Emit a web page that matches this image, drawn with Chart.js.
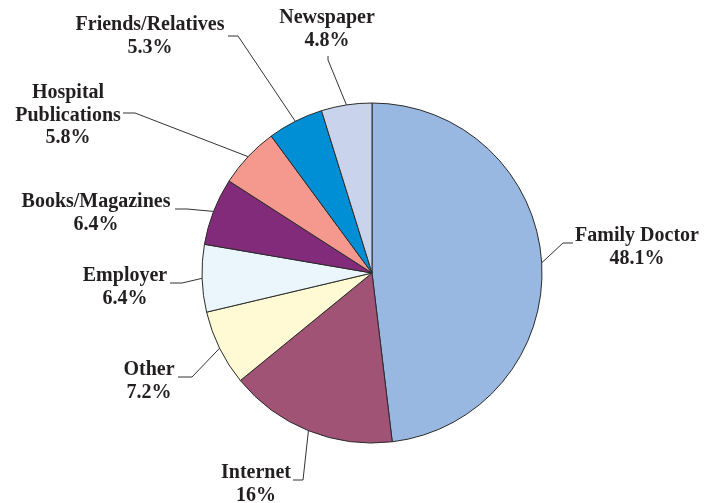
<!DOCTYPE html>
<html>
<head>
<meta charset="utf-8">
<script src="https://cdn.jsdelivr.net/npm/chart.js@4/dist/chart.umd.min.js"></script>
<style>
  html, body { margin: 0; padding: 0; background: #ffffff; }
  #wrap { width: 715px; height: 503px; position: relative; }
</style>
</head>
<body>
<div id="wrap"><canvas id="c" width="715" height="503"></canvas></div>
<script>
// ---- data ----
const categories = ['Family Doctor', 'Internet', 'Other', 'Employer', 'Books/Magazines', 'Hospital Publications', 'Friends/Relatives', 'Newspaper'];
const values = [48.1, 16, 7.2, 6.4, 6.4, 5.8, 5.3, 4.8];
const percentLabels = ['48.1%', '16%', '7.2%', '6.4%', '6.4%', '5.8%', '5.3%', '4.8%'];
const sliceColors = ['#98B8E1', '#A15376', '#FFFAD4', '#EBF5FC', '#822B7B', '#F5998F', '#008FD5', '#C9D3EB'];

// ---- label layout (positions only) ----
const labelLayout = [
  { lines: ['Family Doctor'], cx: 637, base: 241, elbow: [563, 243], end: [573, 243] },
  { lines: ['Internet'], cx: 256, base: 478, elbow: [303, 480], end: [293, 480] },
  { lines: ['Other'], cx: 149, base: 375, elbow: [192, 377], end: [178, 377] },
  { lines: ['Employer'], cx: 125, base: 281, elbow: [182, 283], end: [170, 283] },
  { lines: ['Books/Magazines'], cx: 96, base: 207, elbow: [187, 209], end: [175, 209] },
  { lines: ['Hospital', 'Publications'], cx: 68, base: 98, elbow: [135, 113], end: [123, 113] },
  { lines: ['Friends/Relatives'], cx: 150, base: 30, elbow: [238, 36], end: [228, 36] },
  { lines: ['Newspaper'], cx: 327, base: 23, elbow: [328, 60], end: [328, 56] }
];
const LINE_H = 22.5;
const FONT = 'bold 20px "Liberation Serif", "Times New Roman", serif';

const leaderPlugin = {
  id: 'leaders',
  afterDatasetsDraw(chart) {
    const ctx = chart.ctx;
    const meta = chart.getDatasetMeta(0);
    ctx.save();
    meta.data.forEach((arc, i) => {
      const p = arc.getProps(['x', 'y', 'startAngle', 'endAngle', 'outerRadius'], true);
      const mid = (p.startAngle + p.endAngle) / 2;
      const ax = p.x + Math.cos(mid) * p.outerRadius;
      const ay = p.y + Math.sin(mid) * p.outerRadius;
      const L = labelLayout[i];
      ctx.beginPath();
      ctx.strokeStyle = '#333333';
      ctx.lineWidth = 1;
      ctx.moveTo(ax, ay);
      ctx.lineTo(L.elbow[0], L.elbow[1]);
      ctx.lineTo(L.end[0], L.end[1]);
      ctx.stroke();
      ctx.fillStyle = '#231F20';
      ctx.font = FONT;
      ctx.textAlign = 'center';
      ctx.textBaseline = 'alphabetic';
      const lines = L.lines.concat([percentLabels[i]]);
      lines.forEach((t, k) => {
        ctx.fillText(t, L.cx, L.base + k * LINE_H);
      });
    });
    ctx.restore();
  }
};

new Chart(document.getElementById('c'), {
  type: 'pie',
  data: {
    labels: categories,
    datasets: [{
      data: values,
      backgroundColor: sliceColors,
      borderColor: '#2a2a2a',
      borderWidth: 1
    }]
  },
  options: {
    responsive: false,
    animation: false,
    radius: 170,
    layout: { padding: { left: 29, right: 0, top: 43, bottom: 0 } },
    plugins: {
      legend: { display: false },
      tooltip: { enabled: false }
    }
  },
  plugins: [leaderPlugin]
});
</script>
</body>
</html>
